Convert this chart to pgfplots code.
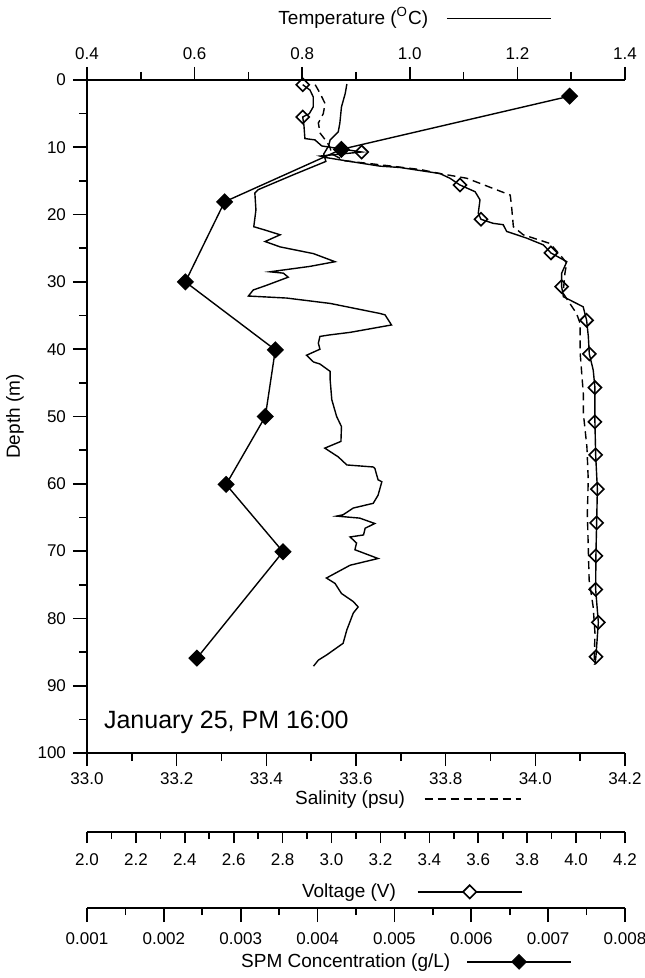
\documentclass[border=0pt]{standalone}
\usepackage{fontspec}
\setmainfont{Liberation Sans}
\usepackage{pgfplots}
\pgfplotsset{compat=1.18}
\usetikzlibrary{shapes.geometric}

\newcommand\ticksize{\fontsize{8.5}{10}\selectfont}
\newcommand\labsize{\fontsize{9.5}{11}\selectfont}
% legend sample to the right of an axis title: #1 gap, #2 drawing
\newcommand\sample[2]{\rlap{\hspace{#1}\tikz[baseline={(0,-0.32em)}]{#2}}}

\pgfplotsset{
  frame/.style={scale only axis, width=269pt, height=336.5pt, at={(0,0)}, anchor=south west,
    ymin=0, ymax=100, y dir=reverse},
  data/.style={frame, hide axis, clip=false},
  scalebar/.style={scale only axis, width=269pt, height=10pt, anchor=south west,
    ymin=0, ymax=1, axis y line=none, tick align=outside, scaled x ticks=false,
    axis line style={line width=0.8pt}, every tick/.style={line width=0.8pt, black},
    xticklabel style={font=\ticksize}, /pgf/number format/assume math mode=true,
    xlabel style={font=\labsize, anchor=center}},
}

\begin{document}
\begin{tikzpicture}

% depth axis + temperature
\begin{axis}[frame, xmin=0.4, xmax=1.4, axis x line=none, axis y line*=left,
  tick align=outside, ytick={0,10,...,100}, minor ytick={5,15,...,95},
  major tick length=7pt, minor tick length=4pt,
  axis line style={line width=0.8pt}, every tick/.style={line width=0.8pt, black},
  yticklabel style={font=\ticksize}, /pgf/number format/assume math mode=true,
  ylabel={Depth (m)}, ylabel style={font=\labsize, at={(axis description cs:-0.134,0.5)}, anchor=center}]
\addplot[black, line width=0.7pt] table[x=T, y=d] {
d T
0.6 0.883
2.0 0.880
4.0 0.873
6.4 0.870
7.7 0.867
8.9 0.852
9.8 0.849
11.0 0.840
12.1 0.844
14.1 0.783
16.3 0.718
16.8 0.712
19.3 0.714
21.8 0.710
22.3 0.731
23.0 0.759
24.0 0.731
24.8 0.759
25.8 0.821
27.0 0.861
27.7 0.814
28.5 0.740
28.7 0.765
29.3 0.774
30.5 0.734
31.2 0.709
32.1 0.700
32.4 0.771
33.2 0.852
34.7 0.945
34.9 0.954
36.4 0.966
37.5 0.889
37.9 0.849
38.1 0.833
39.1 0.830
40.0 0.833
40.9 0.808
41.9 0.821
42.2 0.833
43.3 0.852
44.6 0.852
47.5 0.855
50.0 0.864
51.5 0.873
53.7 0.872
54.7 0.842
56.0 0.867
57.2 0.883
57.5 0.932
57.7 0.935
59.4 0.941
59.7 0.948
61.7 0.941
62.9 0.932
63.6 0.895
64.6 0.876
64.8 0.864
65.1 0.907
65.9 0.935
66.6 0.917
67.6 0.914
67.9 0.889
68.8 0.901
69.8 0.898
71.1 0.941
72.1 0.889
74.0 0.845
74.8 0.861
76.3 0.873
77.5 0.895
78.3 0.904
79.2 0.895
81.7 0.883
83.7 0.876
85.4 0.846
86.2 0.830
87.1 0.821
};
\node[anchor=west, inner sep=0pt, font=\fontsize{12.5}{14}\selectfont] at (axis cs:0.431,95.4) {January 25, PM 16:00};
\end{axis}

% salinity
\begin{axis}[data, xmin=33, xmax=34.2]
\addplot[black, line width=0.7pt, dash pattern=on 4pt off 2.5pt] table[x=S, y=d] {
d S
0.7 33.509
2.0 33.520
3.5 33.531
5.0 33.527
6.4 33.516
7.9 33.520
9.2 33.535
10.0 33.542
11.0 33.546
12.0 33.575
12.6 33.654
13.3 33.743
13.9 33.787
14.6 33.847
17.1 33.944
18.8 33.947
21.8 33.951
23.0 33.973
24.3 34.033
26.3 34.059
27.2 34.070
28.7 34.066
31.7 34.062
34.7 34.092
36.2 34.100
40.6 34.100
46.6 34.107
49.5 34.107
54.5 34.115
59.4 34.118
64.4 34.116
69.3 34.118
74.3 34.120
78.3 34.129
82.2 34.133
86.9 34.131
};
\end{axis}

% voltage
\begin{axis}[data, xmin=2.0, xmax=4.2]
\addplot[black, line width=0.7pt] table[x=V, y=d] {
d V
0.7 2.882
1.5 2.912
2.5 2.925
4.0 2.925
5.0 2.909
5.5 2.882
6.7 2.887
8.7 2.891
8.9 2.932
9.8 2.960
10.7 3.123
11.3 2.953
11.5 2.973
12.1 3.075
12.8 3.198
13.0 3.280
13.9 3.443
14.6 3.484
15.6 3.525
16.6 3.587
17.8 3.607
19.8 3.600
20.7 3.611
21.3 3.661
21.5 3.702
22.5 3.716
23.5 3.798
24.5 3.866
25.7 3.897
27.0 3.962
28.7 3.941
30.7 3.941
32.2 3.948
33.7 4.029
35.7 4.043
38.1 4.050
40.7 4.054
43.1 4.070
45.7 4.077
50.8 4.077
55.7 4.080
60.8 4.087
65.8 4.084
70.7 4.081
75.7 4.080
80.6 4.091
85.7 4.081
86.9 4.077
};
\addplot[only marks, mark=square, mark size=2.3pt, mark options={rotate=45, line width=0.8pt, black}] table[x=V, y=d] {
d V
0.7 2.882
5.5 2.882
10.7 3.123
15.6 3.525
20.7 3.611
25.7 3.897
30.7 3.941
35.7 4.043
40.7 4.054
45.7 4.077
50.8 4.077
55.7 4.080
60.8 4.087
65.8 4.084
70.7 4.081
75.7 4.080
80.6 4.091
85.7 4.081
};
\end{axis}

% SPM
\begin{axis}[data, xmin=0.001, xmax=0.008]
\addplot[black, line width=0.7pt, mark=square*, mark size=2.7pt, mark options={rotate=45, fill=black}] table[x=C, y=d] {
d C
2.4 0.00728
10.3 0.00431
18.1 0.00279
30.0 0.00228
40.1 0.00345
50.0 0.00332
60.1 0.00281
70.1 0.00355
85.9 0.00243
};
\end{axis}

% temperature scale (top)
\begin{axis}[scalebar, at={(0,336.5pt)}, anchor=north west, axis x line*=top,
  xmin=0.4, xmax=1.4, xtick={0.4,0.6,0.8,1.0,1.2,1.4}, minor xtick={0.5,0.7,0.9,1.1,1.3},
  xticklabel style={/pgf/number format/.cd, fixed, fixed zerofill, precision=1},
  major tick length=6.5pt, minor tick length=4pt,
  xlabel={Temperature (\textsuperscript{O}C)\sample{9pt}{\draw[line width=0.7pt] (0,0)--(52pt,0);}},
  xlabel style={at={(axis description cs:0.495,4.1)}}]
\end{axis}

% salinity scale
\begin{axis}[scalebar, at={(0,0)}, axis x line*=bottom,
  xmin=33, xmax=34.2, xtick={33.0,33.2,33.4,33.6,33.8,34.0,34.2}, minor xtick={33.1,33.3,33.5,33.7,33.9,34.1},
  xticklabel style={/pgf/number format/.cd, fixed, fixed zerofill, precision=1},
  major tick length=6.5pt, minor tick length=4pt,
  xlabel={Salinity (psu)\sample{9.5pt}{\draw[line width=0.7pt, dash pattern=on 4pt off 2.5pt] (0,0)--(48pt,0);}},
  xlabel style={at={(axis description cs:0.489,-2.35)}}]
\end{axis}

% voltage scale
\begin{axis}[scalebar, at={(0,-39.5pt)}, axis x line*=bottom,
  xmin=2, xmax=4.2, xtick={2.0,2.2,2.4,2.6,2.8,3.0,3.2,3.4,3.6,3.8,4.0,4.2},
  minor xtick={2.1,2.3,2.5,2.7,2.9,3.1,3.3,3.5,3.7,3.9,4.1},
  xticklabel style={yshift=-2pt, /pgf/number format/.cd, fixed, fixed zerofill, precision=1},
  major tick length=5.5pt, minor tick length=3.5pt,
  xlabel={Voltage (V)\sample{10.5pt}{\draw[line width=0.7pt] (0,0)--(52pt,0); \node[diamond, draw, line width=0.8pt, fill=white, inner sep=0pt, minimum size=7pt] at (26pt,0) {};}},
  xlabel style={at={(axis description cs:0.487,-3.05)}}]
\end{axis}

% SPM scale
\begin{axis}[scalebar, at={(0,-77.5pt)}, axis x line*=bottom,
  xmin=0.001, xmax=0.008, xtick={0.001,0.002,0.003,0.004,0.005,0.006,0.007,0.008},
  minor xtick={0.0015,0.0025,0.0035,0.0045,0.0055,0.0065,0.0075},
  xticklabel style={yshift=-2pt, /pgf/number format/.cd, fixed, fixed zerofill, precision=3},
  major tick length=7pt, minor tick length=3.5pt,
  xlabel={SPM Concentration (g/L)\sample{8pt}{\draw[line width=0.7pt] (0,0)--(52pt,0); \node[diamond, draw, fill=black, inner sep=0pt, minimum size=7.5pt] at (26pt,0) {};}},
  xlabel style={at={(axis description cs:0.481,-2.75)}}]
\end{axis}

\pgfresetboundingbox
\useasboundingbox (-43.5pt,-112.5pt) rectangle (278.5pt,376.5pt);
\end{tikzpicture}
\end{document}
